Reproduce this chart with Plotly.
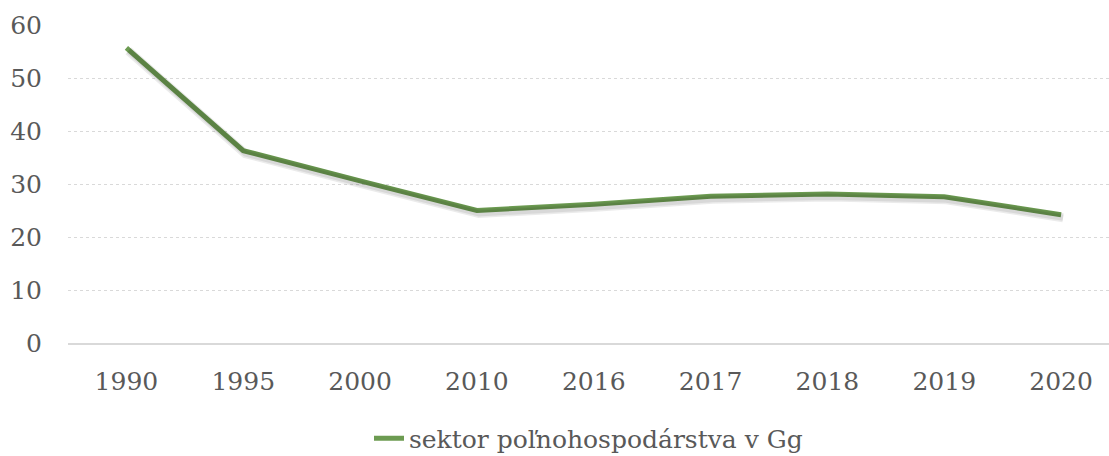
import plotly.graph_objects as go

# Emissions from agriculture sector, Gg
years = ["1990", "1995", "2000", "2010", "2016", "2017", "2018", "2019", "2020"]
values = [55.7, 36.3, 30.6, 25.0, 26.2, 27.7, 28.1, 27.6, 24.2]
y_ticks = [0, 10, 20, 30, 40, 50, 60]
series_name = "sektor poľnohospodárstva v Gg"

line_color = "#6C9B51"
text_color = "#595959"
grid_color = "#D9D9D9"
font_family = "DejaVu Serif"

x_range = [-0.5, 8.41]
y_range = [0, 60]
# soft drop shadow offset (in axis units) for the secondary axes
shadow_dx = 2.0 / 116.8
shadow_dy = 3.0 / 5.3

fig = go.Figure()

# shadow drawn on offset overlay axes
fig.add_trace(go.Scatter(
    x=years, y=values, mode="lines", xaxis="x2", yaxis="y2",
    line=dict(color="rgba(0,0,0,0.08)", width=9),
    hoverinfo="skip", showlegend=False,
))
fig.add_trace(go.Scatter(
    x=years, y=values, mode="lines", xaxis="x2", yaxis="y2",
    line=dict(color="rgba(0,0,0,0.08)", width=6),
    hoverinfo="skip", showlegend=False,
))

fig.add_trace(go.Scatter(
    x=years, y=values, mode="lines", name=series_name,
    line=dict(color=line_color, width=5),
))

tick_font = dict(family=font_family, size=25, color=text_color)

fig.update_layout(
    width=1109, height=456,
    margin=dict(l=68, r=0, t=25, b=113, autoexpand=False),
    paper_bgcolor="white", plot_bgcolor="white",
    font=dict(family=font_family, color=text_color, size=25),
    xaxis=dict(
        type="category", range=x_range, showgrid=False, zeroline=False,
        showline=True, linecolor=grid_color, linewidth=2,
        ticks="", ticklabelstandoff=15, automargin=False,
        tickfont=tick_font,
    ),
    yaxis=dict(
        range=y_range, tickvals=y_ticks, showgrid=True,
        gridcolor=grid_color, griddash="dot", gridwidth=1,
        zeroline=False, showline=False, ticks="", automargin=False,
        ticklabelstandoff=25,
        tickfont=tick_font,
    ),
    xaxis2=dict(
        type="category", overlaying="x",
        range=[x_range[0] - shadow_dx, x_range[1] - shadow_dx],
        visible=False,
    ),
    yaxis2=dict(
        overlaying="y", range=[y_range[0] + shadow_dy, y_range[1] + shadow_dy],
        visible=False,
    ),
    legend=dict(
        orientation="h", x=0.5, xanchor="center", y=-0.30, yanchor="middle",
        font=dict(family=font_family, size=25, color=text_color),
        bgcolor="rgba(0,0,0,0)",
    ),
    showlegend=True,
)

fig.write_html("out.html")
